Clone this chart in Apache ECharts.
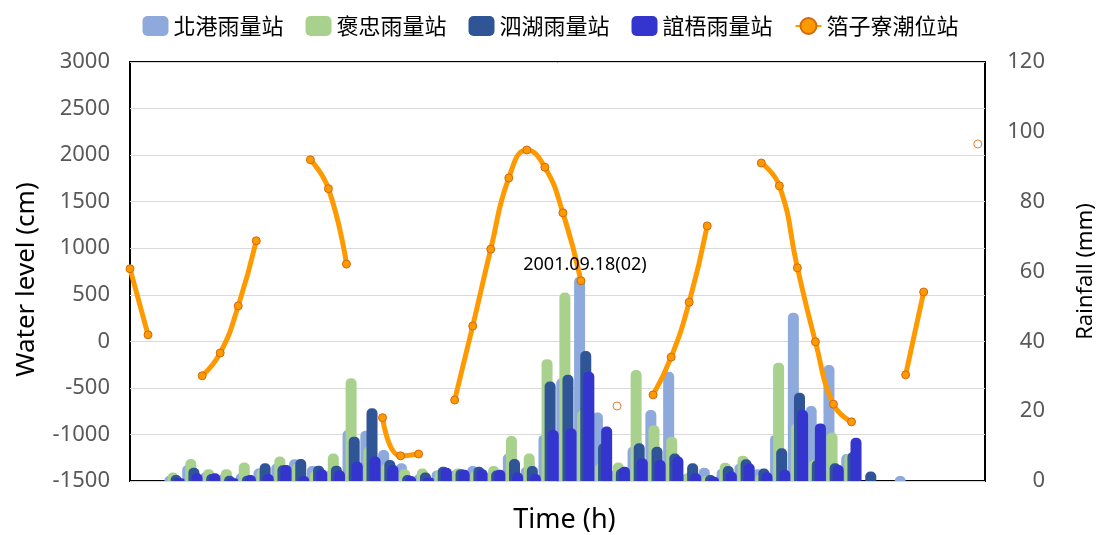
<!DOCTYPE html>
<html>
<head>
<meta charset="utf-8">
<script src="https://cdn.jsdelivr.net/npm/echarts@6/dist/echarts.min.js"></script>
<style>
html, body { margin: 0; padding: 0; background: #fff; }
#chart { width: 1101px; height: 535px; }
</style>
</head>
<body>
<div id="chart"></div>
<script>
// hourly steps, 48 of them
var hours = [0, 1, 2, 3, 4, 5, 6, 7, 8, 9, 10, 11, 12, 13, 14, 15, 16, 17, 18, 19, 20, 21, 22, 23,
    24, 25, 26, 27, 28, 29, 30, 31, 32, 33, 34, 35, 36, 37, 38, 39, 40, 41, 42, 43, 44, 45, 46, 47];

var stationNames = ['北港雨量站', '褒忠雨量站', '泗湖雨量站', '誼梧雨量站'];
var tideName = '箔子寮潮位站';

// rainfall (mm)
var rainBeigang = [0, 0, 1.5, 4.6, 2.5, 2.0, 2.2, 3.6, 5.0, 6.2, 4.3, 3.0, 14.6, 14.4, 8.9, 5.1, 2.0, 3.0, 3.0, 4.3,
    2.5, 7.9, 4.0, 13.2, 29.4, 58.5, 19.6, 3.0, 9.8, 20.3, 31.3, 2.0, 3.8, 3.5, 5.0, 3.4, 13.2, 48.2, 21.5, 33.2,
    7.7, 0, 0, 1.4, 0, 0, 0, 0];
var rainBaozhong = [0, 0, 2.4, 6.3, 3.4, 3.4, 5.3, 3.5, 7.0, 5.0, 3.0, 7.9, 29.4, 9.8, 5.0, 3.4, 3.6, 3.2, 3.6, 3.0,
    4.3, 12.9, 7.9, 34.9, 54.0, 20.3, 5.0, 5.3, 31.8, 16.0, 12.7, 2.5, 1.5, 5.2, 7.2, 2.0, 33.9, 16.5, 6.0, 13.9,
    7.9, 0, 0, 0, 0, 0, 0, 0];
var rainSihu = [0, 0, 1.7, 3.8, 2.0, 1.5, 1.5, 5.1, 4.5, 6.3, 4.4, 4.4, 12.7, 20.8, 6.0, 1.7, 2.4, 4.1, 3.4, 4.1,
    3.0, 6.3, 4.3, 28.5, 30.4, 37.2, 10.8, 3.5, 10.8, 9.8, 7.9, 5.1, 1.7, 4.3, 6.2, 3.6, 9.4, 25.3, 6.0, 5.1,
    8.3, 2.7, 0, 0, 0, 0, 0, 0];
var rainYiwu = [0, 0, 0.8, 2.2, 2.2, 0.8, 1.7, 2.0, 4.6, 1.4, 3.4, 3.1, 5.5, 7.0, 4.6, 1.4, 1.0, 3.8, 3.2, 3.4,
    3.2, 2.4, 2.0, 14.6, 15.1, 31.3, 15.6, 4.1, 6.5, 6.0, 7.0, 2.2, 1.2, 2.7, 5.1, 2.5, 3.2, 20.3, 16.5, 4.6,
    12.4, 0, 0, 0, 0, 0, 0, 0];

// tide level (cm), null = no record
var waterLevel = [780, 70, null, null, -370, -125, 380, 1080, null, null, 1950, 1640, 830, null, -820, -1230,
    -1210, null, -630, 165, 990, 1755, 2055, 1870, 1380, 650, null, -695, null, -575, -170, 420, 1240, null, null,
    1915, 1670, 790, -5, -675, -865, null, null, -360, 530, null, null, 2120];
var peakLabel = '2001.09.18(02)';
var peakIndex = 25;

var barColors = ['#8EA9DB', '#A9D18E', '#2F5597', '#3434CE'];
var rainData = [rainBeigang, rainBaozhong, rainSihu, rainYiwu];

var chart = echarts.init(document.getElementById('chart'));

var lineData = waterLevel.map(function (v, i) {
    var item = {value: [hours[i], v === null ? '-' : v]};
    // single points between gaps are drawn hollow
    var lonely = v !== null && (i === 0 || waterLevel[i - 1] === null) && (i === waterLevel.length - 1 || waterLevel[i + 1] === null);
    if (lonely) {
        item.itemStyle = {color: '#fff', borderColor: '#E0803A', borderWidth: 1};
    }
    if (i === peakIndex) {
        item.label = {
            show: true, position: 'top', distance: 2, offset: [4, 0],
            formatter: peakLabel, color: '#000', fontSize: 18, fontFamily: 'Noto Sans'
        };
    }
    return item;
});

var series = rainData.map(function (arr, s) {
    return {
        name: stationNames[s],
        type: 'bar',
        xAxisIndex: 0,
        yAxisIndex: 1,
        data: arr,
        barWidth: 11,
        barGap: '-72%',
        itemStyle: {color: barColors[s], borderRadius: [5, 5, 0, 0]}
    };
});

series.push({
    name: tideName,
    type: 'line',
    xAxisIndex: 1,
    yAxisIndex: 0,
    data: lineData,
    smooth: 0.5,
    connectNulls: false,
    showSymbol: true,
    symbol: 'circle',
    symbolSize: 8,
    lineStyle: {color: '#FF9900', width: 5},
    itemStyle: {color: '#FF9900', borderColor: '#D06A10', borderWidth: 1},
    z: 5
});

chart.setOption({
    animation: false,
    backgroundColor: '#fff',
    textStyle: {fontFamily: 'Noto Sans'},
    legend: {
        top: 10,
        left: 'center',
        itemWidth: 26,
        itemHeight: 20,
        itemGap: 22,
        textStyle: {fontSize: 22, color: '#000', fontFamily: 'Noto Sans CJK TC'},
        data: stationNames.concat([tideName])
    },
    grid: {
        left: 130, right: 116, top: 62, bottom: 54,
        show: true, borderColor: '#000', borderWidth: 2,
        outerBoundsMode: 'none'
    },
    xAxis: [{
        type: 'category',
        data: hours,
        boundaryGap: true,
        name: 'Time (h)',
        nameLocation: 'middle',
        nameGap: 26,
        nameTextStyle: {fontSize: 27, color: '#000', padding: [0, 0, 0, 14]},
        axisLine: {show: false},
        axisTick: {show: false},
        axisLabel: {show: false},
        splitLine: {show: false}
    }, {
        type: 'value',
        min: 0,
        max: 47.4,
        show: false
    }],
    yAxis: [{
        type: 'value',
        min: -1500,
        max: 3000,
        interval: 500,
        name: 'Water level (cm)',
        nameLocation: 'middle',
        nameGap: 90,
        nameTextStyle: {fontSize: 26, color: '#000', padding: [0, 16, 0, 0]},
        axisLine: {show: false},
        axisTick: {show: false},
        axisLabel: {
            fontSize: 22, color: '#595959', margin: 20,
            formatter: function (v) { return String(v); }
        },
        splitLine: {lineStyle: {color: '#d9d9d9', width: 1}}
    }, {
        type: 'value',
        min: 0,
        max: 120,
        interval: 20,
        position: 'right',
        name: 'Rainfall (mm)',
        nameLocation: 'middle',
        nameGap: 90,
        nameTextStyle: {fontSize: 22, color: '#000'},
        axisLine: {show: false},
        axisTick: {show: false},
        axisLabel: {fontSize: 22, color: '#595959', align: 'right', margin: 60},
        splitLine: {show: false}
    }],
    series: series
});
</script>
</body>
</html>
